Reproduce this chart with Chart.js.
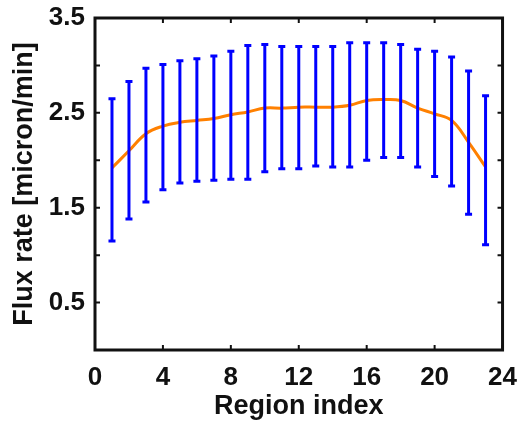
<!DOCTYPE html>
<html>
<head>
<meta charset="utf-8">
<script src="https://cdn.jsdelivr.net/npm/chart.js@4.4.1/dist/chart.umd.min.js"></script>
<style>
  html, body { margin: 0; padding: 0; background: #fff; }
  #wrap { width: 521px; height: 423px; }
</style>
</head>
<body>
<div id="wrap"><canvas id="fluxChart"></canvas></div>
<script>
// region index 1..23
const regions = [1,2,3,4,5,6,7,8,9,10,11,12,13,14,15,16,17,18,19,20,21,22,23];
// mean flux rate
const meanFlux = [1.92,2.10,2.28,2.36,2.40,2.42,2.44,2.48,2.51,2.55,2.55,2.56,2.56,2.56,2.58,2.63,2.64,2.63,2.55,2.49,2.42,2.19,1.93];
// error bar ends
const upperFlux = [2.65,2.83,2.97,3.01,3.05,3.07,3.10,3.15,3.21,3.22,3.20,3.20,3.20,3.20,3.24,3.24,3.24,3.22,3.17,3.15,3.09,2.94,2.68];
const lowerFlux = [1.15,1.38,1.56,1.69,1.76,1.78,1.79,1.80,1.80,1.88,1.91,1.91,1.94,1.93,1.93,2.00,2.03,2.03,1.93,1.83,1.73,1.43,1.11];
// tick labels shown
const xTickLabels = [0,4,8,12,16,20,24];
const yTickLabels = [0.5,1.5,2.5,3.5];

Chart.defaults.font.family = '"Liberation Sans", Arial, sans-serif';
Chart.defaults.color = '#111';

// error bars drawn through the scales
const errorBars = {
  id: 'errorBars',
  afterDatasetsDraw(chart) {
    const { ctx, scales: { x, y } } = chart;
    ctx.save();
    ctx.strokeStyle = '#0000ff';
    ctx.lineWidth = 3;
    regions.forEach((r, i) => {
      const px = x.getPixelForValue(r);
      const top = y.getPixelForValue(upperFlux[i]);
      const bot = y.getPixelForValue(lowerFlux[i]);
      ctx.beginPath();
      ctx.moveTo(px, top); ctx.lineTo(px, bot);
      ctx.moveTo(px - 3.5, top); ctx.lineTo(px + 3.5, top);
      ctx.moveTo(px - 3.5, bot); ctx.lineTo(px + 3.5, bot);
      ctx.stroke();
    });
    ctx.restore();
  }
};

// box with inward ticks on all sides
const frame = {
  id: 'frame',
  afterDraw(chart) {
    const { ctx, chartArea: a, scales: { x, y } } = chart;
    ctx.save();
    ctx.strokeStyle = '#111';
    ctx.lineWidth = 2;
    ctx.beginPath();
    x.ticks.forEach(t => {
      const px = x.getPixelForValue(t.value);
      ctx.moveTo(px, a.bottom); ctx.lineTo(px, a.bottom - 5);
      ctx.moveTo(px, a.top); ctx.lineTo(px, a.top + 5);
    });
    y.ticks.forEach(t => {
      const py = y.getPixelForValue(t.value);
      ctx.moveTo(a.left, py); ctx.lineTo(a.left + 5, py);
      ctx.moveTo(a.right, py); ctx.lineTo(a.right - 5, py);
    });
    ctx.stroke();
    ctx.lineWidth = 3;
    ctx.strokeRect(a.left, a.top, a.right - a.left, a.bottom - a.top);
    ctx.restore();
  }
};

new Chart(document.getElementById('fluxChart'), {
  type: 'line',
  data: {
    datasets: [{
      data: regions.map((r, i) => ({ x: r, y: meanFlux[i] })),
      borderColor: '#ff8000',
      borderWidth: 3,
      pointRadius: 0,
      tension: 0.4,
      fill: false
    }]
  },
  options: {
    responsive: true,
    maintainAspectRatio: false,
    animation: false,
    layout: { padding: { top: 18, right: 16, left: 0, bottom: 0 } },
    plugins: { legend: { display: false }, tooltip: { enabled: false } },
    scales: {
      x: {
        type: 'linear',
        min: 0, max: 24,
        afterBuildTicks: s => { s.ticks = xTickLabels.map(v => ({ value: v })); },
        afterFit: s => { s.height = 73; },
        grid: { display: false },
        border: { display: false },
        ticks: { font: { size: 26, weight: 'bold' }, padding: 4, maxRotation: 0 },
        title: { display: true, text: 'Region index', font: { size: 27, weight: 'bold' }, padding: { top: -8, bottom: 0 } }
      },
      y: {
        min: 0, max: 3.5,
        ticks: {
          stepSize: 0.5,
          font: { size: 26, weight: 'bold' },
          padding: 2,
          callback: v => yTickLabels.includes(v) ? v.toFixed(1) : ''
        },
        afterFit: s => { s.width = 95; },
        grid: { display: false },
        border: { display: false },
        title: { display: true, text: 'Flux rate [micron/min]', font: { size: 27, weight: 'bold' }, padding: { top: 8, bottom: 0 } }
      }
    }
  },
  plugins: [errorBars, frame]
});
</script>
</body>
</html>
